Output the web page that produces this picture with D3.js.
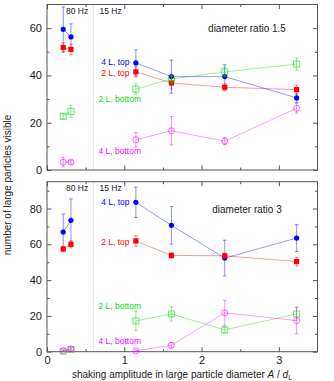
<!DOCTYPE html>
<html>
<head>
<meta charset="utf-8">
<script src="https://cdn.jsdelivr.net/npm/d3@7"></script>
<style>
  body { margin: 0; background: #fff; }
  svg { font-family: "Liberation Sans", Arial, sans-serif; }
</style>
</head>
<body>
<svg id="chart" width="334" height="381"></svg>
<script>
// shaking amplitudes: first two points at 80 Hz, the rest at 15 Hz
const amplitude = [0.21, 0.31, 1.15, 1.61, 2.30, 3.23];
const split80 = 2;
const freqBoundary = 0.6;

// diameter ratio 1.5
const r15_top4L = [59.5, 56.3, 45.3, 39.5, 39.5, 30.5];
const r15_top4L_err = [9.5, 5.5, 5.5, 7, 5, 2];
const r15_top2L = [51.8, 51.0, 41.5, 36.8, 35.0, 34.0];
const r15_top2L_err = [2, 2.3, 2.2, 2.5, 1.5, 2];
const r15_bot2L = [22.7, 24.8, 34.2, 38.5, 41.5, 44.8];
const r15_bot2L_err = [1, 2.5, 2.2, 2, 2, 2.5];
const r15_bot4L = [3.3, 3.3, 12.8, 16.6, 12.2, 26.1];
const r15_bot4L_err = [2, 0.8, 3, 6, 1.5, 2];

// diameter ratio 3
const r3_top4L = [66.9, 73.4, 83.5, 70.6, 52.3, 63.5];
const r3_top4L_err = [10, 12, 8.5, 10.5, 10, 7.5];
const r3_top2L = [57.4, 60.0, 61.9, 53.8, 53.6, 50.4];
const r3_top2L_err = [1.5, 2, 3, 1.5, 1.5, 2.5];
const r3_bot2L = [0.3, 1.2, 17.2, 21.1, 12.2, 21.1];
const r3_bot2L_err = [0.5, 0.8, 5.5, 4, 1.5, 3.5];
const r3_bot4L = [0.6, 1.6, 0.5, 3.6, 21.7, 17.4];
const r3_bot4L_err = [0.5, 0.8, 0.5, 1.5, 7, 7.5];

const svg = d3.select('#chart');
const frame = '#555';

const x = d3.scaleLinear().domain([0, 3.5]).range([47, 317.5]);

const panels = [
  {
    title: 'diameter ratio 1.5', titleY: 28, yMax: 70, top: 4.5, bottom: 170, showX: false,
    series: [
      { name: '4 L, top', color: '#0000ff', marker: 'dot', v: r15_top4L, e: r15_top4L_err, ly: 62 },
      { name: '2 L, top', color: '#ff0000', marker: 'sq', v: r15_top2L, e: r15_top2L_err, ly: 73 },
      { name: '2 L, bottom', color: '#00dd00', marker: 'osq', v: r15_bot2L, e: r15_bot2L_err, ly: 99 },
      { name: '4 L, bottom', color: '#ff00ff', marker: 'ocirc', v: r15_bot4L, e: r15_bot4L_err, ly: 151 }
    ]
  },
  {
    title: 'diameter ratio 3', titleY: 209, yMax: 95, top: 181.7, bottom: 351.7, showX: true,
    series: [
      { name: '4 L, top', color: '#0000ff', marker: 'dot', v: r3_top4L, e: r3_top4L_err, ly: 202 },
      { name: '2 L, top', color: '#ff0000', marker: 'sq', v: r3_top2L, e: r3_top2L_err, ly: 241.5 },
      { name: '2 L, bottom', color: '#00dd00', marker: 'osq', v: r3_bot2L, e: r3_bot2L_err, ly: 305.5 },
      { name: '4 L, bottom', color: '#ff00ff', marker: 'ocirc', v: r3_bot4L, e: r3_bot4L_err, ly: 340.5 }
    ]
  }
];

panels.forEach(p => {
  const y = d3.scaleLinear().domain([0, p.yMax]).range([p.bottom, p.top]);
  const g = svg.append('g');

  // frequency separator
  g.append('line')
    .attr('x1', x(freqBoundary)).attr('x2', x(freqBoundary))
    .attr('y1', p.top).attr('y2', p.bottom)
    .attr('stroke', '#ccc').attr('stroke-width', 1)
    .attr('stroke-dasharray', '1,1');

  // axes: ticks pointing inward on all four sides
  const xMajor = d3.range(0, 3.51, 1), xMinor = d3.range(0.5, 3.5, 1);
  const yMajor = d3.range(0, p.yMax + 0.1, 20), yMinor = d3.range(10, p.yMax, 20);

  const axes = [
    [d3.axisBottom(x).tickValues(xMajor).tickSize(-4.5), `translate(0,${p.bottom})`, p.showX],
    [d3.axisBottom(x).tickValues(xMinor).tickSize(-2.5), `translate(0,${p.bottom})`, false],
    [d3.axisTop(x).tickValues(xMajor).tickSize(-4.5), `translate(0,${p.top})`, false],
    [d3.axisTop(x).tickValues(xMinor).tickSize(-2.5), `translate(0,${p.top})`, false],
    [d3.axisLeft(y).tickValues(yMajor).tickSize(-4.5), `translate(${x(0)},0)`, true],
    [d3.axisLeft(y).tickValues(yMinor).tickSize(-2.5), `translate(${x(0)},0)`, false],
    [d3.axisRight(y).tickValues(yMajor).tickSize(-4.5), `translate(${x(3.5)},0)`, false],
    [d3.axisRight(y).tickValues(yMinor).tickSize(-2.5), `translate(${x(3.5)},0)`, false]
  ];
  axes.forEach(([ax, tr, labels]) => {
    const a = g.append('g').attr('transform', tr)
      .call(ax.tickPadding(5).tickFormat(labels ? d3.format('d') : ''));
    a.select('.domain').remove();
    a.selectAll('line').attr('stroke', frame);
    a.selectAll('text').attr('fill', '#222').style('font-size', '11px');
  });

  g.append('rect')
    .attr('x', x(0)).attr('y', p.top)
    .attr('width', x(3.5) - x(0)).attr('height', p.bottom - p.top)
    .attr('fill', 'none').attr('stroke', frame).attr('stroke-width', 1);

  // frequency labels
  g.append('text').attr('x', x(0.245)).attr('y', p.top + 9)
    .style('font-size', '8.5px').attr('fill', '#222').text('80 Hz');
  g.append('text').attr('x', x(0.68)).attr('y', p.top + 9)
    .style('font-size', '8.5px').attr('fill', '#222').text('15 Hz');

  g.append('text').attr('x', 247).attr('y', p.titleY + 3.5)
    .attr('text-anchor', 'middle').style('font-size', '10px').attr('fill', '#222').text(p.title);

  const line = d3.line().x(d => x(d[0])).y(d => y(d[1]));

  p.series.forEach(s => {
    const pts = amplitude.map((a, i) => [a, s.v[i], s.e[i]]);
    const sg = g.append('g');

    [pts.slice(0, split80), pts.slice(split80)].forEach(seg => {
      sg.append('path').datum(seg).attr('d', line)
        .attr('fill', 'none').attr('stroke', s.color)
        .attr('stroke-opacity', 0.4).attr('stroke-width', 1);
    });

    // error bars
    const eb = sg.selectAll('.eb').data(pts).enter().append('g')
      .attr('stroke', s.color).attr('stroke-opacity', 0.45).attr('stroke-width', 1);
    eb.append('line')
      .attr('x1', d => x(d[0])).attr('x2', d => x(d[0]))
      .attr('y1', d => y(Math.max(0, d[1] - d[2]))).attr('y2', d => y(d[1] + d[2]));
    eb.append('line')
      .attr('x1', d => x(d[0]) - 1.8).attr('x2', d => x(d[0]) + 1.8)
      .attr('y1', d => y(d[1] + d[2])).attr('y2', d => y(d[1] + d[2]));
    eb.append('line')
      .attr('x1', d => x(d[0]) - 1.8).attr('x2', d => x(d[0]) + 1.8)
      .attr('y1', d => y(Math.max(0, d[1] - d[2]))).attr('y2', d => y(Math.max(0, d[1] - d[2])));

    // markers
    const m = sg.selectAll('.mk').data(pts).enter();
    if (s.marker === 'dot') {
      m.append('circle').attr('cx', d => x(d[0])).attr('cy', d => y(d[1]))
        .attr('r', 2.6).attr('fill', s.color);
    } else if (s.marker === 'sq') {
      m.append('rect').attr('x', d => x(d[0]) - 2.6).attr('y', d => y(d[1]) - 2.6)
        .attr('width', 5.2).attr('height', 5.2).attr('fill', s.color);
    } else if (s.marker === 'osq') {
      m.append('rect').attr('x', d => x(d[0]) - 3).attr('y', d => y(d[1]) - 3)
        .attr('width', 6).attr('height', 6).attr('fill', 'none')
        .attr('stroke', s.color).attr('stroke-opacity', 0.6).attr('stroke-width', 1);
    } else {
      m.append('circle').attr('cx', d => x(d[0])).attr('cy', d => y(d[1]))
        .attr('r', 3).attr('fill', 'none')
        .attr('stroke', s.color).attr('stroke-opacity', 0.6).attr('stroke-width', 1);
    }

    const anchorEnd = s.name.indexOf('top') >= 0;
    g.append('text')
      .attr('x', anchorEnd ? 129.5 : 98.5).attr('y', s.ly + 3)
      .attr('text-anchor', anchorEnd ? 'end' : 'start')
      .style('font-size', '8.5px').attr('fill', s.color).text(s.name);
  });
});

// axis titles
svg.append('text')
  .attr('transform', 'translate(11,185) rotate(-90)')
  .attr('text-anchor', 'middle').style('font-size', '10px').attr('fill', '#222')
  .text('number of large particles visible');

const xt = svg.append('text').attr('x', 182).attr('y', 377.5)
  .attr('text-anchor', 'middle').style('font-size', '10px').attr('fill', '#222');
xt.append('tspan').text('shaking amplitude in large particle diameter  ');
xt.append('tspan').style('font-style', 'italic').text('A');
xt.append('tspan').text(' / ');
xt.append('tspan').style('font-style', 'italic').text('d');
xt.append('tspan').attr('dy', 2).style('font-size', '7px').text('L');
</script>
</body>
</html>
